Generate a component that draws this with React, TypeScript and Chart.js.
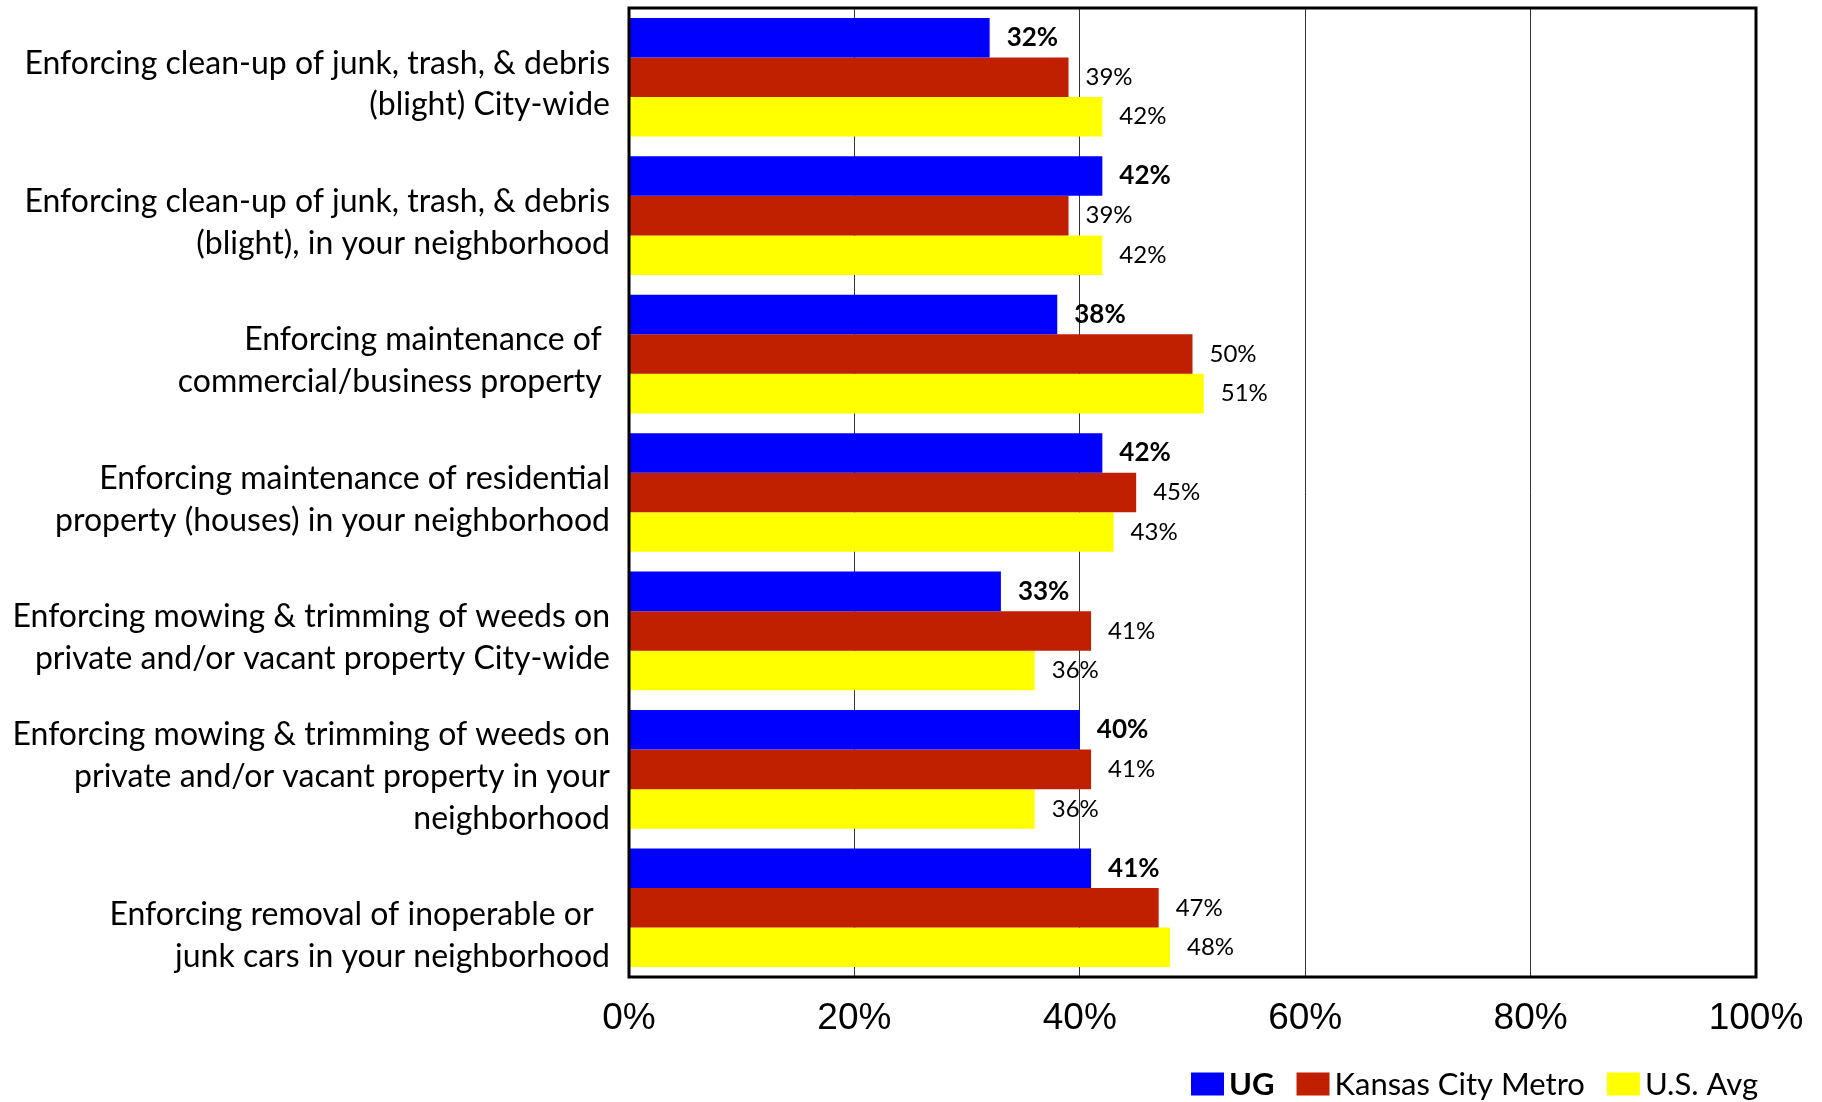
import React, { useEffect, useRef } from "react";
import { Chart, registerables } from "chart.js";

Chart.register(...registerables);

const categories: string[][] = [
  ["Enforcing clean-up of junk, trash, & debris", "(blight) City-wide"],
  ["Enforcing clean-up of junk, trash, & debris", "(blight), in your neighborhood"],
  ["Enforcing maintenance of ", "commercial/business property "],
  ["Enforcing maintenance of residential", "property (houses) in your neighborhood"],
  ["Enforcing mowing & trimming of weeds on", "private and/or vacant property City-wide"],
  ["Enforcing mowing & trimming of weeds on", "private and/or vacant property in your", "neighborhood"],
  ["", "Enforcing removal of inoperable or  ", "junk cars in your neighborhood"],
];

const seriesNames = ["UG", "Kansas City Metro", "U.S. Avg"];
const ugValues = [32, 42, 38, 42, 33, 40, 41];
const kcMetroValues = [39, 39, 50, 45, 41, 41, 47];
const usAvgValues = [42, 42, 51, 43, 36, 36, 48];
const seriesColors = ["#0000FF", "#C02000", "#FFFF00"];
const xTickMax = 100;
const xTickStep = 20;

const W = 1822;
const H = 1102;
const PLOT_LEFT = 629;
const PLOT_TOP = 8;
const PLOT_RIGHT = 1756;
const PLOT_BOTTOM = 977;

const LABEL_FONT = "Lato, 'Open Sans', sans-serif";

const overlayPlugin = {
  id: "overlay",
  afterDatasetsDraw(chart: any) {
    const ctx = chart.ctx;
    ctx.save();
    chart.data.datasets.forEach((ds: any, di: number) => {
      const meta = chart.getDatasetMeta(di);
      meta.data.forEach((el: any, i: number) => {
        const v = ds.data[i];
        ctx.font = di === 0 ? `bold 26px ${LABEL_FONT}` : `24px ${LABEL_FONT}`;
        ctx.fillStyle = "#000";
        ctx.textAlign = "left";
        ctx.textBaseline = "middle";
        ctx.fillText(`${v}%`, el.x + 17, el.y);
      });
    });
    const a = chart.chartArea;
    ctx.strokeStyle = "#000";
    ctx.lineWidth = 3;
    ctx.strokeRect(a.left, a.top, a.right - a.left, a.bottom - a.top);
    ctx.restore();
  },
  afterDraw(chart: any) {
    const ctx = chart.ctx;
    ctx.save();
    const boxW = 33;
    const boxH = 23;
    const boxGap = 5;
    const itemGap = 22;
    const fonts = [`bold 31px ${LABEL_FONT}`, `31px ${LABEL_FONT}`, `31px ${LABEL_FONT}`];
    const widths = seriesNames.map((n, i) => {
      ctx.font = fonts[i];
      return ctx.measureText(n).width;
    });
    const total =
      widths.reduce((s, w) => s + boxW + boxGap + w, 0) + itemGap * (seriesNames.length - 1);
    let x = 1758 - total;
    const cy = 1084;
    seriesNames.forEach((n, i) => {
      ctx.fillStyle = seriesColors[i];
      ctx.fillRect(x, cy - boxH / 2, boxW, boxH);
      x += boxW + boxGap;
      ctx.font = fonts[i];
      ctx.fillStyle = "#000";
      ctx.textAlign = "left";
      ctx.textBaseline = "middle";
      ctx.fillText(n, x, cy + 1);
      x += widths[i] + itemGap;
    });
    ctx.restore();
  },
};

export default function App() {
  const ref = useRef<HTMLCanvasElement>(null);
  useEffect(() => {
    if (!ref.current) return;
    const chart = new Chart(ref.current, {
      type: "bar",
      data: {
        labels: categories,
        datasets: [
          { label: seriesNames[0], data: ugValues, backgroundColor: seriesColors[0] },
          { label: seriesNames[1], data: kcMetroValues, backgroundColor: seriesColors[1] },
          { label: seriesNames[2], data: usAvgValues, backgroundColor: seriesColors[2] },
        ],
      },
      options: {
        indexAxis: "y",
        responsive: false,
        animation: false,
        categoryPercentage: 0.857,
        barPercentage: 1.0,
        layout: { padding: { left: 0, top: PLOT_TOP, right: W - PLOT_RIGHT, bottom: 0 } },
        plugins: {
          legend: { display: false },
          tooltip: { enabled: false },
        },
        scales: {
          x: {
            min: 0,
            max: xTickMax,
            ticks: {
              stepSize: xTickStep,
              callback: (v: any) => `${v}%`,
              color: "#000",
              font: { family: "'Liberation Sans', Arial, sans-serif", size: 37 },
              padding: 20,
              maxRotation: 0,
            },
            grid: { color: "#333", lineWidth: 1, drawTicks: false },
            border: { display: false },
            afterFit: (s: any) => {
              s.height = H - PLOT_BOTTOM;
              s.paddingLeft = 0;
              s.paddingRight = 0;
            },
          },
          y: {
            ticks: {
              color: "#000",
              font: { family: LABEL_FONT, size: 32, lineHeight: 1.31 },
              padding: 19,
              labelOffset: 7,
            },
            grid: { display: false, drawTicks: false },
            border: { display: false },
            afterFit: (s: any) => {
              s.width = PLOT_LEFT;
              s.paddingTop = 0;
              s.paddingBottom = 0;
            },
          },
        },
      },
      plugins: [overlayPlugin],
    } as any);
    return () => chart.destroy();
  }, []);
  return (
    <div style={{ position: "absolute", left: 0, top: 0, width: W, height: H, background: "#fff" }}>
      <canvas ref={ref} width={W} height={H} style={{ display: "block" }} />
    </div>
  );
}
